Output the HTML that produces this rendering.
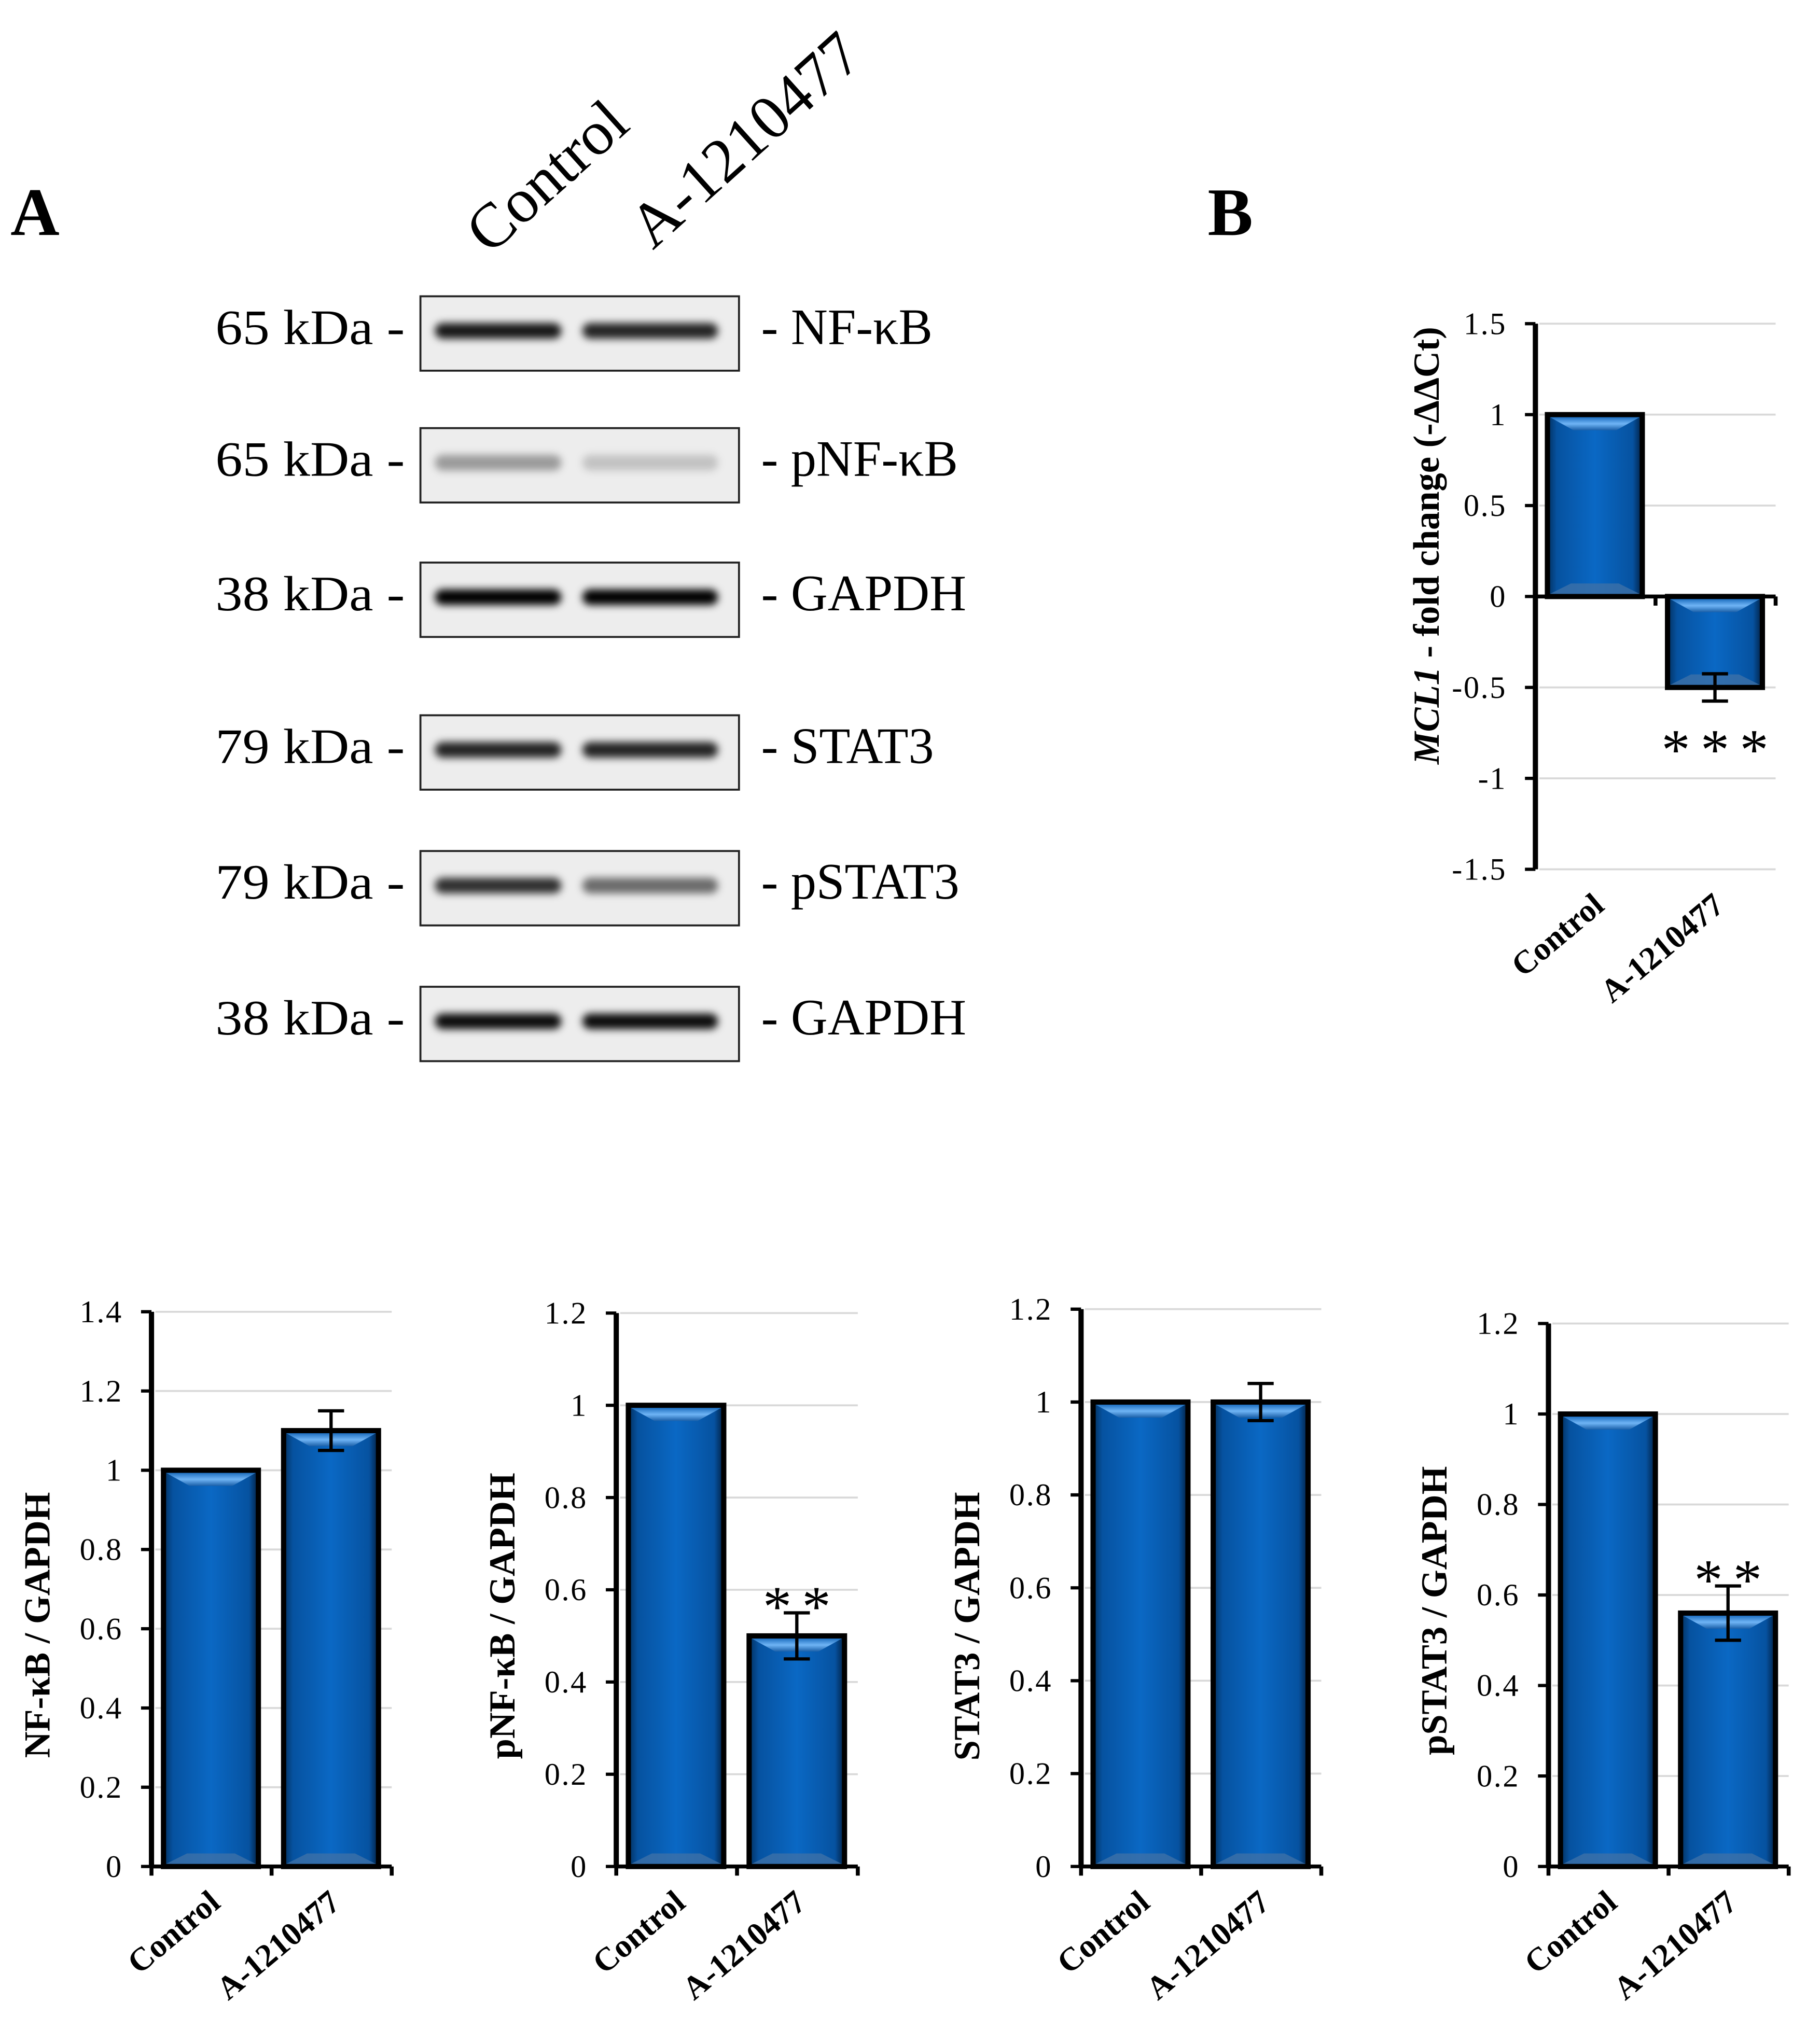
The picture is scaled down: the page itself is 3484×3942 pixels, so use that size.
<!DOCTYPE html>
<html><head><meta charset="utf-8"><style>
html,body{margin:0;padding:0;background:#fff}
svg{display:block}
text{font-family:"Liberation Serif",serif}
</style></head><body>
<svg id="fig" width="3484" height="3942" viewBox="0 0 1384 1566" xmlns="http://www.w3.org/2000/svg">
<defs>
<linearGradient id="barH" x1="0" x2="1" y1="0" y2="0">
<stop offset="0" stop-color="#02305e"/><stop offset="0.1" stop-color="#0652a0"/><stop offset="0.5" stop-color="#0a68c4"/><stop offset="0.9" stop-color="#0652a0"/><stop offset="1" stop-color="#021f40"/>
</linearGradient>
<linearGradient id="hi" x1="0" x2="0" y1="0" y2="1">
<stop offset="0" stop-color="#1f6fc0"/><stop offset="0.5" stop-color="#6fb4f5"/><stop offset="1" stop-color="#1a5fa8"/>
</linearGradient>
<filter id="blur" x="-20%" y="-100%" width="140%" height="300%"><feGaussianBlur stdDeviation="3"/></filter>
</defs>
<g id="blot"></g>
<g id="charts"></g>
</svg>
<script>
const NS="http://www.w3.org/2000/svg";
function mk(tag,attrs,parent,txt){const e=document.createElementNS(NS,tag);for(const k in attrs)e.setAttribute(k,attrs[k]);if(txt!=null)e.textContent=txt;parent.appendChild(e);return e;}

// ---- Western blot data ----
const blotProteins=["NF-κB","pNF-κB","GAPDH","STAT3","pSTAT3","GAPDH"];
const blotWeights=["65 kDa -","65 kDa -","38 kDa -","79 kDa -","79 kDa -","38 kDa -"];
const blotControlIntensity=[0.9,0.35,1.0,0.85,0.8,0.95];
const blotTreatedIntensity=[0.85,0.18,1.0,0.85,0.55,0.95];
const blotRowTops=[227,328,431,548,652,756];
const blot=document.getElementById('blot');
const fig=document.getElementById('fig');

let t=mk('text',{x:8,y:180,'font-size':52,'font-weight':'bold'},fig,'A');

t=mk('text',{x:925,y:180,'font-size':52,'font-weight':'bold'},fig,'B');

t=mk('text',{x:0,y:0,'font-size':48,transform:'translate(375,196) rotate(-42)'},blot,'Control');

t=mk('text',{x:0,y:0,'font-size':48,transform:'translate(500,192) rotate(-42)'},blot,'A-1210477');


blotProteins.forEach((p,i)=>{
  const y0=blotRowTops[i],h=57;
  const g=mk('g',{},blot);
  
  const r=mk('rect',{x:322,y:y0,width:244,height:h,fill:'#ededed',stroke:'#222','stroke-width':1.5},g);
  
  const cy=y0+h/2-2;
  [[blotControlIntensity[i],333,97],[blotTreatedIntensity[i],446,104]].forEach(([v,x,w],j)=>{
    const b=mk('rect',{x:x,y:cy-6,width:w,height:12,rx:6,fill:'#000','fill-opacity':v,filter:'url(#blur)'},g);
    
  });
  const l=mk('text',{x:310,y:y0+h/2+8,'font-size':38,'text-anchor':'end',textLength:145,lengthAdjust:'spacingAndGlyphs'},g,blotWeights[i]);
  
  const rl=mk('text',{x:583,y:y0+h/2+8,'font-size':39},g,'- '+p);
  
});

// ---- Bar chart data ----
const categories=["Control","A-1210477"];
const mclValues=[1,-0.5];
const mclErrors=[0,0.075];
const nfkbValues=[1,1.1];
const nfkbErrors=[0,0.05];
const pnfkbValues=[1,0.5];
const pnfkbErrors=[0,0.05];
const stat3Values=[1,1.0];
const stat3Errors=[0,0.04];
const pstat3Values=[1,0.56];
const pstat3Errors=[0,0.06];
const mclTicks=["-1.5","-1","-0.5","0","0.5","1","1.5"];
const nfkbTicks=["0","0.2","0.4","0.6","0.8","1","1.2","1.4"];
const ticks12=["0","0.2","0.4","0.6","0.8","1","1.2"];
const sigMcl=["","***"];
const sigNfkb=["",""];
const sigPnfkb=["","**"];
const sigStat3=["",""];
const sigPstat3=["","**"];

const charts=document.getElementById('charts');
function chart(o){
  const g=mk('g',{},charts);
  
  const tv=o.ticks.map(Number),min=tv[0],max=tv[tv.length-1];
  const ys=v=>o.bottom-(v-min)/(max-min)*(o.bottom-o.top);
  const y0=ys(0);
  o.ticks.forEach(tk=>{
    const y=ys(+tk);
    const gl=mk('line',{x1:o.ax+3,x2:o.right,y1:y,y2:y,stroke:'#d9d9d9','stroke-width':1.5},g);
    
    const tm=mk('line',{x1:o.ax-8,x2:o.ax,y1:y,y2:y,stroke:'#000','stroke-width':2.5},g);
    
    const tl=mk('text',{x:o.ax-22,y:y+8,'font-size':24,'text-anchor':'end','letter-spacing':1},g,tk);
    
  });
  const slot=(o.right-o.ax)/categories.length;
  o.values.forEach((v,i)=>{
    const x=o.ax+slot*i+slot*0.1, w=slot*0.79;
    const yt=Math.min(ys(v),y0), h=Math.abs(ys(v)-y0);
    const bg=mk('g',{},g);
    
    mk('rect',{x:x,y:yt,width:w,height:h,fill:'url(#barH)',stroke:'#000','stroke-width':4},bg);
    const top=yt;
    mk('polygon',{points:`${x+2},${top+2} ${x+w-2},${top+2} ${x+w-20},${top+12} ${x+20},${top+12}`,fill:'url(#hi)'},bg);
    const bot=yt+h;
    mk('polygon',{points:`${x+2},${bot-2} ${x+w-2},${bot-2} ${x+w-18},${bot-10} ${x+18},${bot-10}`,fill:'#3d70a8','fill-opacity':0.8},bg);
    if(o.errors[i]>0){
      const cx=x+w/2,ya=ys(v+o.errors[i]),yb=ys(v-o.errors[i]);
      const eb=mk('path',{d:`M${cx},${ya}V${yb}M${cx-10},${ya}H${cx+10}M${cx-10},${yb}H${cx+10}`,stroke:'#000','stroke-width':2.5,fill:'none'},g);
      
    }
    if(o.sig[i]){
      const sy=v>=0?ys(v+o.errors[i])-10:ys(v-o.errors[i])+32;
      const st=mk('text',{x:x+w/2+4,y:sy+20,'font-size':44,'text-anchor':'middle','letter-spacing':8},g,o.sig[i]);
      
    }
    const cl=mk('text',{x:0,y:0,'font-size':25,'font-weight':'bold','text-anchor':'end',transform:`translate(${o.ax+slot*(i+0.5)+8},${o.bottom+(o.labelOff||30)}) rotate(-40)`},g,categories[i]);
    
  });
  const ya=mk('line',{x1:o.ax,x2:o.ax,y1:o.top,y2:o.bottom,stroke:'#000','stroke-width':4},g);
  
  const xa=mk('line',{x1:o.ax,x2:o.right,y1:y0,y2:y0,stroke:'#000','stroke-width':3},g);
  
  for(let k=0;k<=categories.length;k++){
    const xt=mk('line',{x1:o.ax+slot*k,x2:o.ax+slot*k,y1:y0,y2:y0+7,stroke:'#000','stroke-width':3},g);
    
  }
  const ti=mk('text',{x:0,y:0,'font-size':28,'font-weight':'bold','text-anchor':'middle',transform:`translate(${o.tx},${o.ty}) rotate(-90)`},g);
  
  o.title(ti);
}
chart({name:'mcl1-chart',ax:1176,top:248,bottom:666,right:1360,ticks:mclTicks,values:mclValues,errors:mclErrors,sig:sigMcl,tx:1102,ty:418,labelOff:30,
  title:ti=>{mk('tspan',{'font-style':'italic'},ti,'MCL1');mk('tspan',{},ti,' - fold change (-ΔΔCt)');}});
chart({name:'nfkb-chart',ax:116,top:1005,bottom:1430,right:300,ticks:nfkbTicks,values:nfkbValues,errors:nfkbErrors,sig:sigNfkb,tx:38,ty:1245,
  title:ti=>{ti.textContent='NF-κB  / GAPDH';}});
chart({name:'pnfkb-chart',ax:472,top:1006,bottom:1430,right:657,ticks:ticks12,values:pnfkbValues,errors:pnfkbErrors,sig:sigPnfkb,tx:394,ty:1238,
  title:ti=>{ti.textContent='pNF-κB  / GAPDH';}});
chart({name:'stat3-chart',ax:828,top:1003,bottom:1430,right:1012,ticks:ticks12,values:stat3Values,errors:stat3Errors,sig:sigStat3,tx:750,ty:1246,
  title:ti=>{ti.textContent='STAT3  / GAPDH';}});
chart({name:'pstat3-chart',ax:1186,top:1014,bottom:1430,right:1370,ticks:ticks12,values:pstat3Values,errors:pstat3Errors,sig:sigPstat3,tx:1108,ty:1234,
  title:ti=>{ti.textContent='pSTAT3  / GAPDH';}});
</script>
</body></html>
